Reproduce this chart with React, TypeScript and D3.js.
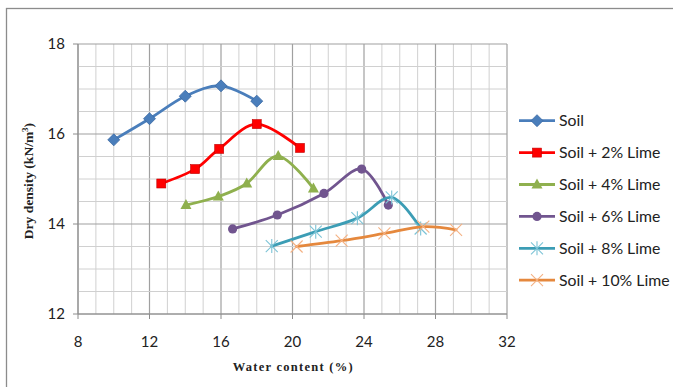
import React from "react";
import * as d3 from "d3";

const xTicks = [8, 12, 16, 20, 24, 28, 32];
const yTicks = [12, 14, 16, 18];

const seriesNames = ["Soil", "Soil + 2% Lime", "Soil + 4% Lime", "Soil + 6% Lime", "Soil + 8% Lime", "Soil + 10% Lime"];

const soilX = [10, 12, 14, 16, 18];
const soilY = [15.87, 16.34, 16.84, 17.07, 16.73];
const lime2X = [12.66, 14.55, 15.9, 18.0, 20.42];
const lime2Y = [14.9, 15.22, 15.67, 16.22, 15.69];
const lime4X = [14.04, 15.85, 17.44, 19.2, 21.17];
const lime4Y = [14.42, 14.61, 14.9, 15.51, 14.79];
const lime6X = [16.65, 19.15, 21.76, 23.87, 25.36];
const lime6Y = [13.89, 14.2, 14.68, 15.22, 14.42];
const lime8X = [18.84, 21.3, 23.63, 25.55, 27.17];
const lime8Y = [13.51, 13.83, 14.13, 14.59, 13.9];
const lime10X = [20.23, 22.75, 25.14, 27.32, 29.15];
const lime10Y = [13.5, 13.63, 13.79, 13.94, 13.87];

const seriesX = [soilX, lime2X, lime4X, lime6X, lime8X, lime10X];
const seriesY = [soilY, lime2Y, lime4Y, lime6Y, lime8Y, lime10Y];
const colors = ["#4a7ebb", "#ff0000", "#8fb04e", "#71558f", "#3c9db5", "#e5883d"];
const markerColors = ["#4a7ebb", "#ff0000", "#8fb04e", "#71558f", "#7cc3d6", "#f4b183"];
const markerTypes = ["diamond", "square", "triangle", "circle", "star", "x"];

const W = 673, H = 387;
const x = d3.scaleLinear().domain([8, 32]).range([78, 507]);
const y = d3.scaleLinear().domain([12, 18]).range([314, 44]);

function Marker({ type, cx, cy, color }: { type: string; cx: number; cy: number; color: string }) {
  switch (type) {
    case "diamond":
      return <path d={`M${cx},${cy - 6}L${cx + 6},${cy}L${cx},${cy + 6}L${cx - 6},${cy}Z`} fill={color} stroke="#3b6aa3" strokeWidth={0.8} />;
    case "square":
      return <rect x={cx - 4.5} y={cy - 4.5} width={9} height={9} fill={color} stroke="#c00000" strokeWidth={0.6} />;
    case "triangle":
      return <path d={`M${cx},${cy - 6}L${cx + 5.5},${cy + 4}L${cx - 5.5},${cy + 4}Z`} fill={color} />;
    case "circle":
      return <circle cx={cx} cy={cy} r={4.6} fill={color} />;
    case "star": {
      const r = 6;
      return (
        <g stroke={color} strokeWidth={1.1}>
          <line x1={cx - r} y1={cy - r} x2={cx + r} y2={cy + r} />
          <line x1={cx - r} y1={cy + r} x2={cx + r} y2={cy - r} />
          <line x1={cx} y1={cy - r - 1} x2={cx} y2={cy + r + 1} />
        </g>
      );
    }
    default: {
      const r = 6;
      return (
        <g stroke={color} strokeWidth={1.1}>
          <line x1={cx - r} y1={cy - r} x2={cx + r} y2={cy + r} />
          <line x1={cx - r} y1={cy + r} x2={cx + r} y2={cy - r} />
        </g>
      );
    }
  }
}

export default function App() {
  const line = d3
    .line<[number, number]>()
    .x((d) => x(d[0]))
    .y((d) => y(d[1]))
    .curve(d3.curveCatmullRom.alpha(0));

  const vGrid = d3.range(8, 33, 1);
  const hGrid = d3.range(12, 18.01, 0.5);
  const tickFont = "Lato, 'Open Sans', sans-serif";
  const serif = "'Liberation Serif', 'DejaVu Serif', serif";

  return (
    <svg width={W} height={H} style={{ position: "absolute", left: 0, top: 0, background: "#fff" }}>
      <rect x={0} y={0} width={W} height={H} fill="#fff" />
      <rect x={6.5} y={8.5} width={W + 20} height={H + 20} fill="none" stroke="#8c8c8c" strokeWidth={1.3} />

      {/* grid */}
      {vGrid.map((v) => (
        <line key={"v" + v} x1={x(v)} x2={x(v)} y1={y(12)} y2={y(18)} stroke={v % 4 === 0 ? "#a0a0a0" : "#d0d0d0"} strokeWidth={v % 4 === 0 ? 1.2 : 1} />
      ))}
      {hGrid.map((v) => (
        <line key={"h" + v} x1={x(8)} x2={x(32)} y1={y(v)} y2={y(v)} stroke={Math.abs(v % 2) < 0.01 ? "#a0a0a0" : "#d0d0d0"} strokeWidth={Math.abs(v % 2) < 0.01 ? 1.2 : 1} />
      ))}

      {/* axes */}
      <line x1={x(8)} x2={x(8)} y1={y(12)} y2={y(18)} stroke="#8c8c8c" />
      <line x1={x(8)} x2={x(32)} y1={y(12)} y2={y(12)} stroke="#8c8c8c" />
      {yTicks.map((t) => (
        <g key={"yt" + t}>
          <line x1={x(8) - 5} x2={x(8)} y1={y(t)} y2={y(t)} stroke="#8c8c8c" />
          <text x={65} y={y(t)} dy="0.35em" textAnchor="end" fontFamily={tickFont} fontSize={15} fill="#222">{t}</text>
        </g>
      ))}
      {xTicks.map((t) => (
        <g key={"xt" + t}>
          <line x1={x(t)} x2={x(t)} y1={y(12)} y2={y(12) + 5} stroke="#8c8c8c" />
          <text x={x(t)} y={342} dy="0.35em" textAnchor="middle" fontFamily={tickFont} fontSize={15} fill="#222">{t}</text>
        </g>
      ))}

      {/* axis titles */}
      <text x={232.7} y={367} dy="0.35em" textLength={120} lengthAdjust="spacing" fontFamily={serif} fontWeight="bold" fontSize={12.5} fill="#222">Water content (%)</text>
      <text transform={`translate(28,181) rotate(-90)`} dy="0.35em" textAnchor="middle" fontFamily={serif} fontWeight="bold" fontSize={13.5} fill="#222">
        Dry density (kN/m<tspan dy="-4.5" fontSize={9}>3</tspan><tspan dy="4.5">)</tspan>
      </text>

      {/* series */}
      {seriesX.map((xs, i) => {
        const pts = xs.map((v, j) => [v, seriesY[i][j]] as [number, number]);
        return (
          <g key={"s" + i}>
            <path d={line(pts) || ""} fill="none" stroke={colors[i]} strokeWidth={2.8} strokeLinecap="round" strokeLinejoin="round" />
            {pts.map((p, j) => (
              <Marker key={j} type={markerTypes[i]} cx={x(p[0])} cy={y(p[1])} color={markerColors[i]} />
            ))}
          </g>
        );
      })}

      {/* legend */}
      {seriesNames.map((name, i) => {
        const ly = 120.7 + i * 31.9;
        return (
          <g key={"l" + i}>
            <line x1={519} x2={555} y1={ly} y2={ly} stroke={colors[i]} strokeWidth={2.8} />
            <Marker type={markerTypes[i]} cx={537} cy={ly} color={markerColors[i]} />
            <text x={559} y={ly} dy="0.35em" fontFamily={tickFont} fontSize={15.8} fill="#222">{name}</text>
          </g>
        );
      })}
    </svg>
  );
}
